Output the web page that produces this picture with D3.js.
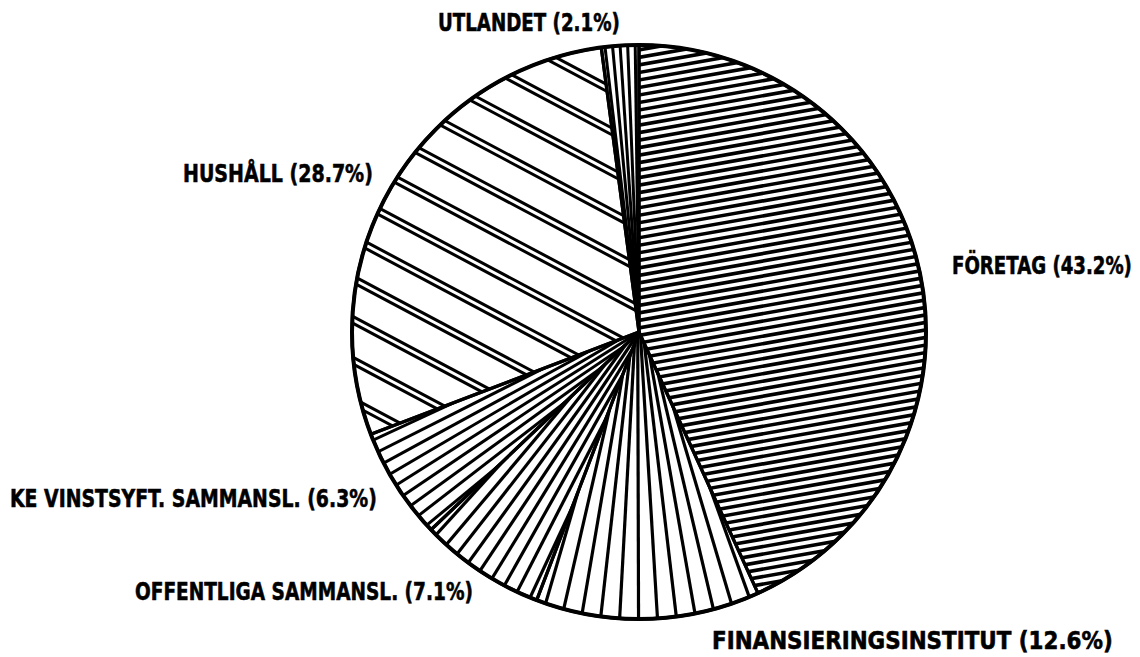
<!DOCTYPE html>
<html><head><meta charset="utf-8">
<script src="https://cdn.jsdelivr.net/npm/d3@7"></script>
<style>body{margin:0;background:#fff}svg{display:block}</style>
</head><body>
<svg id="c" width="1140" height="657"></svg>
<script>
// ---- data ----
const categories = ["FÖRETAG", "FINANSIERINGSINSTITUT", "OFFENTLIGA SAMMANSL.", "KE VINSTSYFT. SAMMANSL.", "HUSHÅLL", "UTLANDET"];
const shares = [43.2, 12.6, 7.1, 6.3, 28.7, 2.1];
const shareLabels = ["43.2%", "12.6%", "7.1%", "6.3%", "28.7%", "2.1%"];

// ---- layout / style ----
const W = 1140, H = 657, cx = 639, cy = 332, R = 287;
const hatch = [
  {type: "parallel", angle: -10, period: 7.4, width: 3.6},
  {type: "fan", spacing: 19, back: 45, width: 3.2},
  {type: "fan", spacing: 15, back: 90, width: 3.2},
  {type: "fan", spacing: 12, back: 110, width: 3.0},
  {type: "double", angle: 28, period: 36, gap: 6, width: 3.0},
  {type: "fan", spacing: 8, back: 0, width: 3.0}
];
const labelLayout = [
  {x: 952, y: 274, len: 180},
  {x: 712, y: 649, len: 401},
  {x: 135, y: 600, len: 338},
  {x: 10, y: 507, len: 367},
  {x: 183, y: 182, len: 190},
  {x: 438, y: 31, len: 182}
];

const svg = d3.select("#c");
svg.append("rect").attr("width", W).attr("height", H).attr("fill", "#fff");
const defs = svg.append("defs");
const g = svg.append("g").attr("transform", `translate(${cx},${cy})`);

const pie = d3.pie().sort(null).value(d => d).startAngle(0).endAngle(2 * Math.PI);
const arcs = pie(shares);
const arc = d3.arc().innerRadius(0).outerRadius(R);

function linesFor(d, i) {
  const h = hatch[i];
  const out = [];
  if (h.type === "parallel" || h.type === "double") {
    const a = h.angle * Math.PI / 180;
    const dx = Math.cos(a), dy = Math.sin(a);
    const nx = -Math.sin(a), ny = Math.cos(a);
    const L = R * 1.3;
    for (let k = -R * 1.2; k <= R * 1.2; k += h.period) {
      const offs = h.type === "double" ? [k - h.gap / 2, k + h.gap / 2] : [k];
      offs.forEach(o => {
        out.push([nx * o - dx * L, ny * o - dy * L, nx * o + dx * L, ny * o + dy * L]);
      });
    }
  } else {
    const a0 = d.startAngle, a1 = d.endAngle;
    const n = Math.max(1, Math.round(R * (a1 - a0) / h.spacing));
    const m = (a0 + a1) / 2;
    const fx = -Math.sin(m) * h.back, fy = Math.cos(m) * h.back;
    for (let j = 0; j < n; j++) {
      const t = a0 + (j + 0.5) * (a1 - a0) / n;
      const px = Math.sin(t) * R, py = -Math.cos(t) * R;
      out.push([fx, fy, fx + (px - fx) * 1.15, fy + (py - fy) * 1.15]);
    }
  }
  return out;
}

arcs.forEach((d, i) => {
  defs.append("clipPath").attr("id", "clip" + i)
    .append("path").attr("d", arc(d));
  const sg = g.append("g").attr("clip-path", `url(#clip${i})`);
  sg.selectAll("line").data(linesFor(d, i)).join("line")
    .attr("x1", l => l[0]).attr("y1", l => l[1])
    .attr("x2", l => l[2]).attr("y2", l => l[3])
    .attr("stroke", "#000").attr("stroke-width", hatch[i].width);
});

g.selectAll("path.slice").data(arcs).join("path")
  .attr("class", "slice")
  .attr("d", arc)
  .attr("fill", "none").attr("stroke", "#000").attr("stroke-width", 3.2).attr("stroke-linejoin", "round");

g.append("circle").attr("r", R).attr("fill", "none").attr("stroke", "#000").attr("stroke-width", 4);

svg.selectAll("text.lbl").data(arcs).join("text")
  .attr("class", "lbl")
  .attr("x", 0).attr("y", 0)
  .attr("font-family", "DejaVu Sans")
  .attr("font-weight", "bold")
  .attr("font-size", 24)
  .attr("fill", "#000")
  .attr("stroke", "#000").attr("stroke-width", 0.6)
  .text((d, i) => `${categories[i]} (${shareLabels[i]})`)
  .each(function (d, i) {
    const natural = this.getComputedTextLength();
    const L = labelLayout[i];
    d3.select(this).attr("transform", `translate(${L.x},${L.y}) scale(${L.len / natural},1)`);
  });
</script>
</body></html>
